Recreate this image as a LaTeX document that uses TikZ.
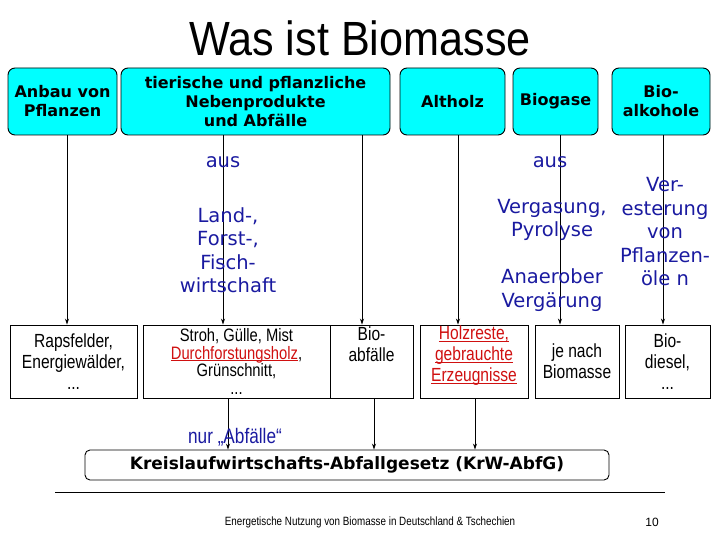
\documentclass[tikz,border=0pt]{standalone}
\usepackage{fontspec}
\setmainfont{Liberation Sans}
\newfontfamily\dv{DejaVu Sans}
\usetikzlibrary{arrows.meta}
\definecolor{cy}{HTML}{00FFFF}
\definecolor{dblue}{HTML}{1A1AA0}
\definecolor{rd}{HTML}{D01010}
\newcommand{\nr}[1]{\scalebox{0.82}[1]{#1}}
\newcommand{\ul}[1]{\underline{\smash{#1}}}
\begin{document}
\begin{tikzpicture}[x=1pt,y=-1pt,line width=0.9pt,
  top/.style={draw,fill=cy,rounded corners=7pt,align=center,font=\dv\bfseries\fontsize{16}{19}\selectfont,inner sep=0pt},
  bot/.style={draw,fill=white,align=center,font=\fontsize{19}{21}\selectfont,inner sep=0pt},
  mid/.style={align=center,font=\dv\fontsize{19.5}{23.5}\selectfont,text=dblue,inner sep=0pt},
  arr/.style={-{Stealth[length=6pt,width=4pt]}}]
\useasboundingbox (0,0) rectangle (720,540);
\node[font=\fontsize{48}{50}\selectfont] (title) at (360,38) {\scalebox{0.9}[1]{Was ist Biomasse}};
% top boxes
\node[top,minimum width=109,minimum height=67] (t1) at (62.5,101.5) {Anbau von\\Pflanzen};
\node[top,minimum width=269,minimum height=67] (t2) at (255.5,101.5) {tierische und pflanzliche\\Nebenprodukte\\und Abfälle};
\node[top,minimum width=105,minimum height=67] (t3) at (452.5,101.5) {Altholz};
\node[top,minimum width=85,minimum height=67] (t4) at (555.5,101.5) {Biogase};
\node[top,minimum width=98,minimum height=67] (t5) at (661,101.5) {Bio-\\alkohole};
% bottom boxes
\node[bot,minimum width=127,minimum height=73] (b1) at (73.5,361.5) {\nr{Rapsfelder,}\\\nr{Energiewälder,}\\\nr{...}};
\node[bot,minimum width=187,minimum height=73,font=\fontsize{18}{17.5}\selectfont] (b2) at (236.5,361.5) {\nr{Stroh, Gülle, Mist}\\\nr{\textcolor{rd}{\ul{Durchforstungsholz}},}\\\nr{Grünschnitt,}\\\nr{...}};
\node[bot,minimum width=83,minimum height=73] (b3) at (371.5,361.5) {\nr{Bio-}\\\nr{abfälle}\\[14pt]};
\node[bot,minimum width=108,minimum height=73,text=rd] (b4) at (474,361.5) {\nr{\ul{Holzreste,}}\\\nr{\ul{gebrauchte}}\\\nr{\ul{Erzeugnisse}}};
\node[bot,minimum width=84,minimum height=73] (b5) at (577,361.5) {\nr{je nach}\\\nr{Biomasse}};
\node[bot,minimum width=85,minimum height=73] (b6) at (667.5,361.5) {\nr{Bio-}\\\nr{diesel,}\\\nr{...}};
\node[draw,rounded corners=5pt,minimum width=524,minimum height=30,font=\dv\bfseries\fontsize{17}{18}\selectfont,inner sep=0pt] (k) at (347,465) {Kreislaufwirtschafts-Abfallgesetz (KrW-AbfG)};
% connectors top->bottom
\draw[arr] (67,135) coordinate (c1) -- (c1 |- b1.north);
\draw[arr] (223,135) coordinate (c2) -- (c2 |- b2.north);
\draw[arr] (362,135) coordinate (c3) -- (c3 |- b3.north);
\draw[arr] (458,135) coordinate (c4) -- (c4 |- b4.north);
\draw[arr] (560,135) coordinate (c5) -- (c5 |- b5.north);
\draw[arr] (663,135) coordinate (c6) -- (c6 |- b6.north);
\draw[arr] (228,398) coordinate (d1) -- (d1 |- k.north);
\draw[arr] (374,398) coordinate (d2) -- (d2 |- k.north);
\draw[arr] (475,398) coordinate (d3) -- (d3 |- k.north);
% middle texts
\node[mid] (aus1) at (223,162) {aus};
\node[mid] (lf) at (228,250) {Land-,\\Forst-,\\Fisch-\\wirtschaft};
\node[mid] (aus2) at (550,162) {aus};
\node[mid] (vg) at (552,220) {Vergasung,\\Pyrolyse};
\node[mid] (av) at (552,290) {Anaerober\\Vergärung};
\node[mid] (ve) at (665,232) {Ver-\\esterung\\von\\Pflanzen-\\öle n};
\node[font=\fontsize{21}{22}\selectfont,text=dblue] (nur) at (235,437) {\nr{nur „Abfälle“}};
% footer
\draw[line width=0.6pt] (55,492) coordinate (f1) -- (665,492) coordinate (f2);
\node[font=\fontsize{12}{13}\selectfont] (ft) at (370,522) {\nr{Energetische Nutzung von Biomasse in Deutschland \& Tschechien}};
\node[font=\fontsize{12}{13}\selectfont] (pg) at (652,522) {10};
\end{tikzpicture}
\end{document}
